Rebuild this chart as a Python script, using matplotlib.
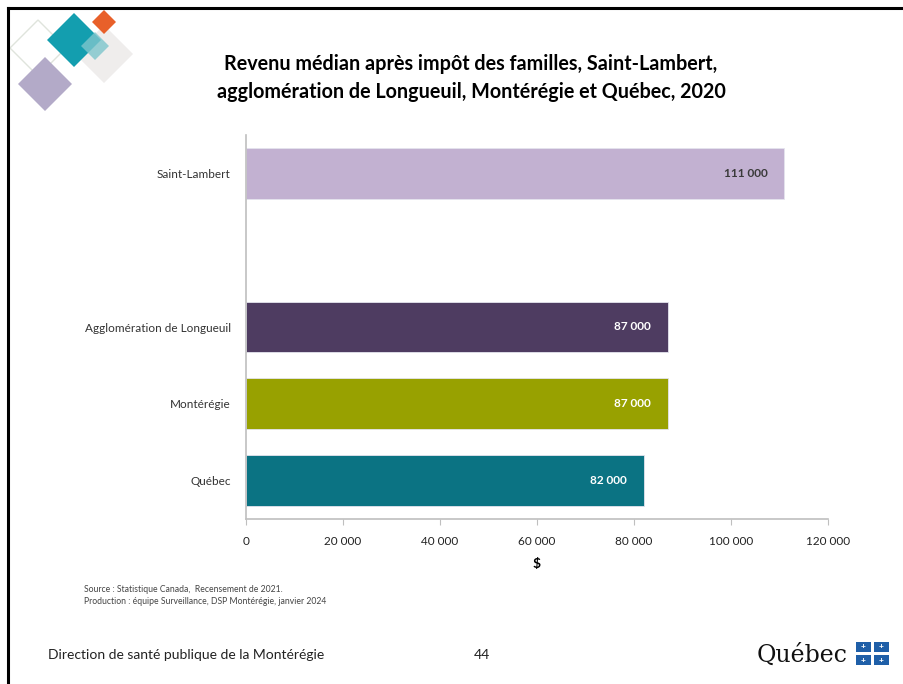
"""Revenu médian après impôt des familles — slide recreation."""

import matplotlib

matplotlib.use("Agg")
import matplotlib.pyplot as plt
from matplotlib.patches import Polygon, Rectangle

plt.rcParams["font.family"] = ["Lato", "DejaVu Sans"]

CATEGORIES = ["Québec", "Montérégie", "Agglomération de Longueuil", "", "Saint-Lambert"]
VALUES = [82000, 87000, 87000, None, 111000]
COLORS = ["#0B7383", "#98A100", "#4E3C61", None, "#C2B1D1"]
LABEL_COLORS = ["white", "white", "white", None, "#3a3a3a"]
XTICKS = [0, 20000, 40000, 60000, 80000, 100000, 120000]

TITLE = ("Revenu médian après impôt des familles, Saint-Lambert,\n"
         "agglomération de Longueuil, Montérégie et Québec, 2020")
SOURCE = ["Source : Statistique Canada,  Recensement de 2021.",
          "Production : équipe Surveillance, DSP Montérégie, janvier 2024"]


def fmt(v):
    return f"{v:,.0f}".replace(",", " ")


W, H = 904, 684


def px(x, y):
    return x / W, 1 - y / H


def diamond(fig, cx, cy, r, **kw):
    pts = [px(cx, cy - r), px(cx + r, cy), px(cx, cy + r), px(cx - r, cy)]
    fig.add_artist(Polygon(pts, closed=True, transform=fig.transFigure, **kw))


fig = plt.figure(figsize=(9.04, 6.84), dpi=100)

# slide frame (top and left edges)
fig.add_artist(plt.Line2D([8 / W, 1], [1 - 8 / H, 1 - 8 / H], color="black", lw=2.2,
                          transform=fig.transFigure))
fig.add_artist(plt.Line2D([8 / W, 8 / W], [0, 1 - 8 / H], color="black", lw=2.2,
                          transform=fig.transFigure))

# decorative squares, top-left
diamond(fig, 38, 48, 28, facecolor="none", edgecolor="#dfe4dc", lw=1.0)
diamond(fig, 45, 84, 27, facecolor="#b3aac8", edgecolor="none")
diamond(fig, 104, 54, 29, facecolor="#efedec", edgecolor="none")
diamond(fig, 74, 40, 27, facecolor="#139eaf", edgecolor="none")
diamond(fig, 104, 22, 12, facecolor="#e8602a", edgecolor="none")
diamond(fig, 95, 46, 14, facecolor="#7ec6cc", edgecolor="none", alpha=0.8)

ax = fig.add_axes([246 / W, 1 - 519 / H, (828 - 246) / W, (519 - 135) / H])

for i, (val, col, lc) in enumerate(zip(VALUES, COLORS, LABEL_COLORS)):
    if val is None:
        continue
    ax.barh(i, val, height=0.66, color=col, edgecolor="#e4e4ee", lw=0.6)
    ax.text(val - 3500, i, fmt(val), ha="right", va="center", fontsize=8.5,
            color=lc, fontweight="bold")

ax.set_xlim(0, 120000)
ax.set_ylim(-0.5, len(CATEGORIES) - 0.5)
ax.set_xticks(XTICKS)
ax.set_xticklabels([fmt(t) for t in XTICKS], fontsize=8.5, color="#222222")
ax.set_yticks(range(len(CATEGORIES)))
ax.set_yticklabels(CATEGORIES, fontsize=8.5, color="#333333")
ax.tick_params(axis="y", length=0, pad=11)
ax.tick_params(axis="x", length=4, color="#bfbfbf", pad=8)
ax.set_xlabel("$", fontsize=10, fontweight="bold", labelpad=8)
for s in ("top", "right"):
    ax.spines[s].set_visible(False)
for s in ("left", "bottom"):
    ax.spines[s].set_color("#bfbfbf")
    ax.spines[s].set_linewidth(1.2)

fig.text(471 / W, 1 - 78 / H, TITLE, ha="center", va="center", fontsize=14.2,
         fontweight="bold", linespacing=1.45)

fig.text(84 / W, 1 - 590 / H, SOURCE[0], fontsize=6.2, color="#444444", va="center")
fig.text(84 / W, 1 - 602 / H, SOURCE[1], fontsize=6.2, color="#444444", va="center")

fig.text(48 / W, 1 - 655 / H, "Direction de santé publique de la Montérégie",
         fontsize=10, color="#222222", va="center")
fig.text(482 / W, 1 - 655 / H, "44", fontsize=10, color="#222222", va="center",
         ha="center")

# Québec signature
fig.text(757 / W, 1 - 655 / H, "Québec", fontsize=17, family="DejaVu Serif",
         color="#111111", va="center")
for gx in (856, 874):
    for gy in (642, 655):
        fig.add_artist(Rectangle(px(gx, gy + 10), 15 / W, 10 / H, facecolor="#1f5fa8",
                                 edgecolor="none", transform=fig.transFigure))
        fig.text((gx + 7.5) / W, 1 - (gy + 5) / H, "+", fontsize=6, color="white",
                 ha="center", va="center", fontweight="bold")

fig.savefig("out.png", dpi=100)
